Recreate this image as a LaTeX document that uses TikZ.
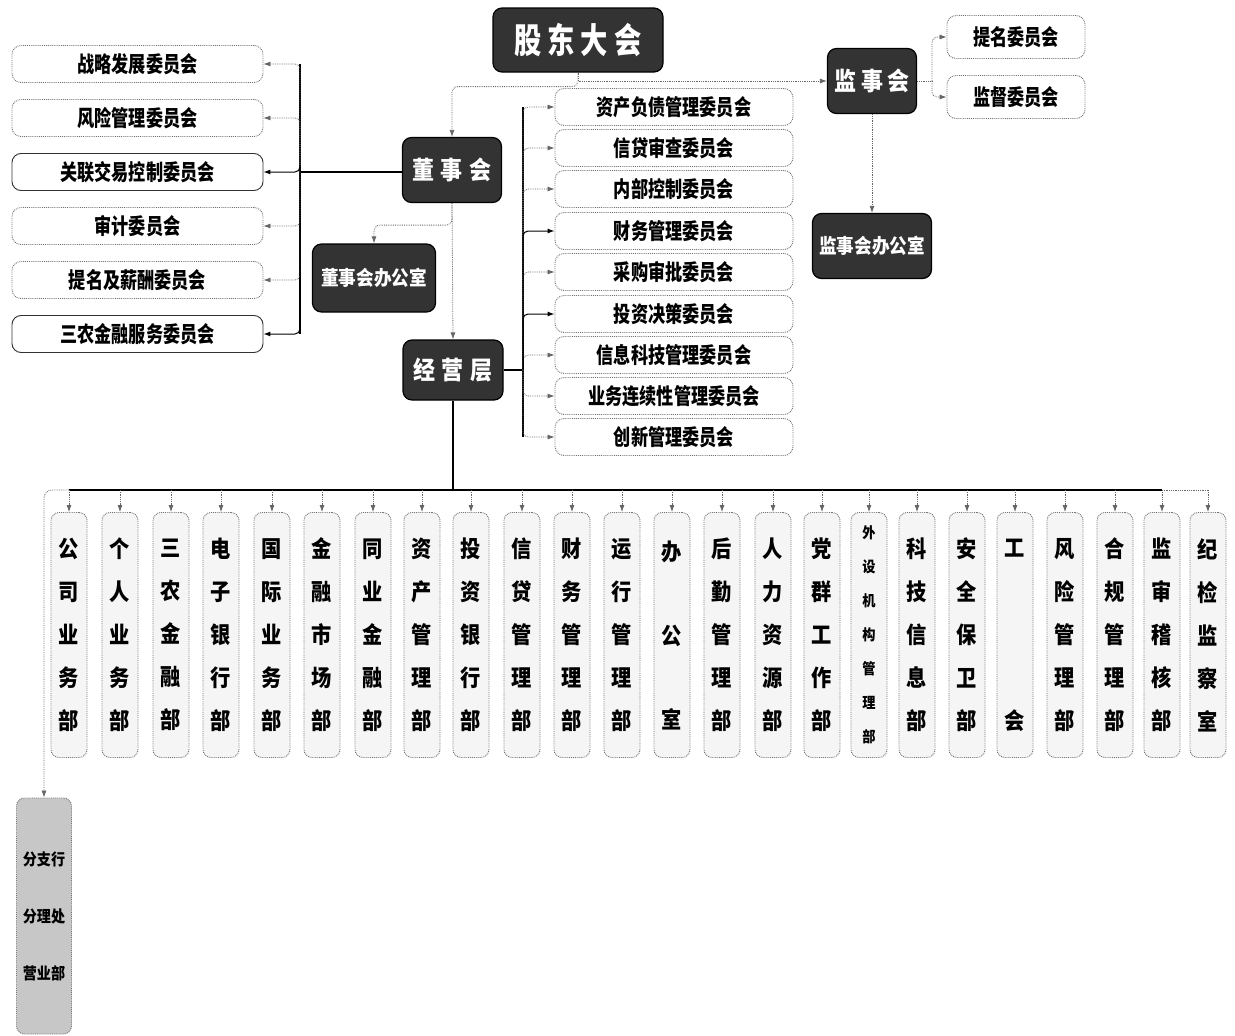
\documentclass[tikz,border=0pt]{standalone}
\usepackage{fontspec}
\setmainfont{Noto Sans CJK SC}
\newfontfamily\condA{Noto Sans CJK SC}[FakeStretch=0.78]
\newfontfamily\condB{Noto Sans CJK SC}[FakeStretch=0.88]
\usetikzlibrary{arrows.meta}
\tikzset{
  darkbox/.style={draw=black, line width=1.2pt, fill=black!80, rounded corners=9pt,
    text=white, inner sep=0pt, align=center},
  lightbox/.style={draw=black!55, densely dotted, line width=0.9pt, fill=white,
    rounded corners=9pt, inner sep=0pt, align=center,
    font=\condA\bfseries\fontsize{22}{22}\selectfont},
  lcom/.style={lightbox, minimum width=251pt, minimum height=37pt},
  mcom/.style={lightbox, minimum width=238pt, minimum height=37pt},
  rcom/.style={lightbox, minimum width=138pt, minimum height=43pt},
  dept/.style={draw=black!55, densely dotted, line width=0.9pt, fill=black!4,
    rounded corners=8pt, minimum width=36pt, minimum height=245pt, inner sep=0pt,
    align=center, font=\condB\bfseries\fontsize{23}{43}\selectfont},
  link/.style={draw=black!60, densely dotted, line width=0.8pt},
  trunk/.style={draw=black, line width=1.5pt},
  tip/.style={-{Latex[length=7pt,width=5pt]}}
}
\begin{document}
\begin{tikzpicture}[x=1pt,y=-1pt]
\useasboundingbox (0,0) rectangle (1235,1036);

% main dark boxes
\node[darkbox, minimum width=170pt, minimum height=64pt, font=\condA\bfseries\fontsize{35}{35}\selectfont] (gd) at (578,40) {股\hspace{6pt}东\hspace{6pt}大\hspace{6pt}会};
\node[darkbox, minimum width=99pt, minimum height=65pt, font=\condB\bfseries\fontsize{25}{25}\selectfont] (ds) at (452,170) {董\hspace{7pt}事\hspace{7pt}会};
\node[darkbox, minimum width=123pt, minimum height=68pt, font=\condB\bfseries\fontsize{20}{20}\selectfont] (dso) at (374,278) {董事会办公室};
\node[darkbox, minimum width=100pt, minimum height=60pt, font=\condB\bfseries\fontsize{25}{25}\selectfont] (jy) at (453,370) {经\hspace{7pt}营\hspace{7pt}层};
\node[darkbox, minimum width=89pt, minimum height=65pt, font=\condB\bfseries\fontsize{25}{25}\selectfont] (js) at (872,81) {监\hspace{5pt}事\hspace{5pt}会};
\node[darkbox, minimum width=119pt, minimum height=65pt, font=\condB\bfseries\fontsize{20}{20}\selectfont] (jso) at (872,246) {监事会办公室};

% supervisory committees
\node[rcom] (tm) at (1016,37) {提名委员会};
\node[rcom] (jd) at (1016,97) {监督委员会};

% board committees
\node[lcom] (l1) at (137.5,64) {战略发展委员会};
\node[lcom] (l2) at (137.5,118) {风险管理委员会};
\node[lcom, draw=black!80, solid] (l3) at (137.5,172) {关联交易控制委员会};
\node[lcom] (l4) at (137.5,226) {审计委员会};
\node[lcom] (l5) at (137.5,280) {提名及薪酬委员会};
\node[lcom, draw=black!80, solid] (l6) at (137.5,334) {三农金融服务委员会};

% management committees
\node[mcom] (m1) at (674,107) {资产负债管理委员会};
\node[mcom] (m2) at (674,148) {信贷审查委员会};
\node[mcom] (m3) at (674,189) {内部控制委员会};
\node[mcom] (m4) at (674,231) {财务管理委员会};
\node[mcom] (m5) at (674,272) {采购审批委员会};
\node[mcom] (m6) at (674,314) {投资决策委员会};
\node[mcom] (m7) at (674,355) {信息科技管理委员会};
\node[mcom] (m8) at (674,396) {业务连续性管理委员会};
\node[mcom] (m9) at (674,437) {创新管理委员会};

% departments
\node[dept] (d1) at (69,635) {公\\司\\业\\务\\部};
\node[dept] (d2) at (120,635) {个\\人\\业\\务\\部};
\node[dept] (d3) at (171,635) {三\\农\\金\\融\\部};
\node[dept] (d4) at (221,635) {电\\子\\银\\行\\部};
\node[dept] (d5) at (272,635) {国\\际\\业\\务\\部};
\node[dept] (d6) at (322,635) {金\\融\\市\\场\\部};
\node[dept] (d7) at (373,635) {同\\业\\金\\融\\部};
\node[dept] (d8) at (422,635) {资\\产\\管\\理\\部};
\node[dept] (d9) at (471,635) {投\\资\\银\\行\\部};
\node[dept] (d10) at (522,635) {信\\贷\\管\\理\\部};
\node[dept] (d11) at (572,635) {财\\务\\管\\理\\部};
\node[dept] (d12) at (622,635) {运\\行\\管\\理\\部};
\node[dept, font=\condB\bfseries\fontsize{23}{84}\selectfont] (d13) at (672,635) {办\\公\\室};
\node[dept] (d14) at (722,635) {后\\勤\\管\\理\\部};
\node[dept] (d15) at (773,635) {人\\力\\资\\源\\部};
\node[dept] (d16) at (822,635) {党\\群\\工\\作\\部};
\node[dept, font=\condB\bfseries\fontsize{15}{34}\selectfont] (d17) at (869,635) {外\\设\\机\\构\\管\\理\\部};
\node[dept] (d18) at (917,635) {科\\技\\信\\息\\部};
\node[dept] (d19) at (967,635) {安\\全\\保\\卫\\部};
\node[dept, font=\condB\bfseries\fontsize{23}{173}\selectfont] (d20) at (1015,635) {工\\会};
\node[dept] (d21) at (1065,635) {风\\险\\管\\理\\部};
\node[dept] (d22) at (1115,635) {合\\规\\管\\理\\部};
\node[dept] (d23) at (1162,635) {监\\审\\稽\\核\\部};
\node[dept] (d24) at (1208,635) {纪\\检\\监\\察\\室};

% branches
\node[dept, fill=black!22, minimum width=55pt, minimum height=236pt,
  font=\condB\bfseries\fontsize{16}{57}\selectfont] (fz) at (44,916) {分支行\\分理处\\营业部};

% connectors: top level
\draw[link, tip] (gd.south) |- (js.west);
\draw[link, tip, rounded corners=6pt] (gd.south) -- ++(0,14) -| (ds.north);
\draw[link, tip, rounded corners=6pt] (ds.south) -- ++(0,22) -| (dso.north);
\draw[link, tip] (ds.south) -- (jy.north);
\draw[link, tip] (js.south) -- (jso.north);
\coordinate (rs) at (932,81);
\draw[link] (js.east) -- (rs);
\draw[link, tip, rounded corners=5pt] (rs) |- (tm.west);
\draw[link, tip, rounded corners=5pt] (rs) |- (jd.west);

% board committees
\coordinate (lt) at (300,172);
\draw[trunk] (ds.west |- lt) -- (lt);
\draw[line width=1.2pt, rounded corners=5pt] (300,64) -- (lt) -- (300,334);
\foreach \i in {1,2,4,5} \draw[link, tip, rounded corners=5pt] (lt) |- (l\i.east);
\foreach \i in {3,6} \draw[trunk, line width=1pt, tip, rounded corners=5pt] (lt) |- (l\i.east);

% management committees
\coordinate (mt) at (523,370);
\draw[trunk] (jy.east) -- (mt);
\draw[line width=1.2pt, rounded corners=5pt] (523,107) -- (mt) -- (523,437);
\foreach \i in {1,2,3,5,7,8,9} \draw[link, tip, rounded corners=5pt] (mt) |- (m\i.west);
\foreach \i in {4,6} \draw[trunk, line width=1pt, tip, rounded corners=5pt] (mt) |- (m\i.west);

% departments bus
\coordinate (bus) at (453,490);
\draw[trunk] (jy.south) -- (bus);
\draw[trunk] (d1.north |- bus) -- (d23.north |- bus);
\draw[link] (d23.north |- bus) -- (d24.north |- bus);
\foreach \i in {1,...,24} \draw[link, tip] (d\i.north |- bus) -- (d\i.north);
\draw[link, tip, rounded corners=8pt] (d1.north |- bus) -| (fz.north);
\end{tikzpicture}
\end{document}
